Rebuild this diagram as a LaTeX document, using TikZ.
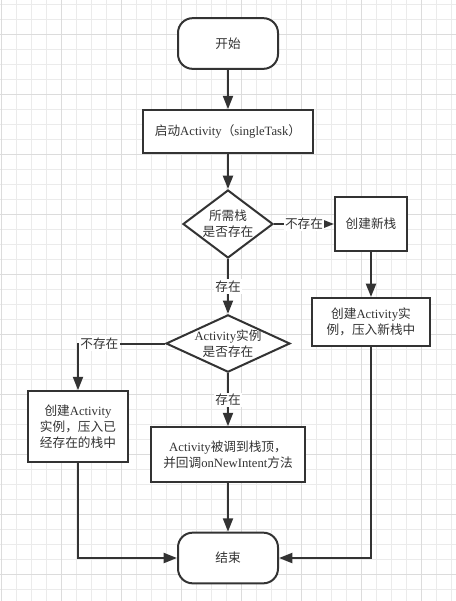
\documentclass[tikz,border=0pt]{standalone}
\usepackage{fontspec}
\setmainfont{Liberation Serif}
\newfontfamily\cjk{Noto Sans CJK SC}
\usetikzlibrary{shapes.geometric}
\usetikzlibrary{arrows.meta}
\newcommand\zh[1]{{\cjk #1}}
\definecolor{ink}{HTML}{333333}
\definecolor{gridminor}{HTML}{EBEBEB}
\definecolor{gridmajor}{HTML}{DCDCDC}

\begin{document}
\begin{tikzpicture}[x=0.75pt,y=-0.75pt,
  every node/.style={font=\fontsize{9.5pt}{12pt}\selectfont,text=ink,align=center},
  line/.style={draw=ink,line width=1.5pt},
  flow/.style={line,-{Triangle[length=10pt,width=7.5pt]}},
  terminal/.style={line,fill=white,rounded corners=11pt,minimum width=75pt,minimum height=38pt},
  process/.style={line,fill=white,inner sep=0pt},
  decision/.style={line,fill=white,shape=diamond,inner sep=0pt},
  tag/.style={fill=white,inner sep=1pt}]

% background grid
\useasboundingbox (0,0) rectangle (456,601);
\fill[white] (0,0) rectangle (456,601);
\foreach \x in {1,16,...,456} \draw[gridminor,line width=0.75pt] (\x,0) -- (\x,601);
\foreach \y in {4,19,...,601} \draw[gridminor,line width=0.75pt] (0,\y) -- (456,\y);
\foreach \x in {1,61,...,456} \draw[gridmajor,line width=0.75pt] (\x,0) -- (\x,601);
\foreach \y in {34,94,...,601} \draw[gridmajor,line width=0.75pt] (0,\y) -- (456,\y);

% nodes
\node[terminal] (start) at (228,43.5) {\zh{开始}};
\node[process,minimum width=128pt,minimum height=32pt] (launch) at (228,131.5) {\zh{启动}Activity\zh{（}singleTask\zh{）}};
\node[decision,aspect=1.32,minimum width=67.5pt,minimum height=51pt] (stackq) at (228,224) {\zh{所需栈}\\\zh{是否存在}};
\node[process,minimum width=54pt,minimum height=40.5pt] (newstack) at (371,224) {\zh{创建新栈}};
\node[process,minimum width=88pt,minimum height=36pt] (pushnew) at (371,322) {\zh{创建}Activity\zh{实}\\\zh{例，压入新栈中}};
\node[decision,aspect=2.18,inner xsep=-2pt,minimum width=93pt,minimum height=43pt] (instq) at (228,343.5) {Activity\zh{实例}\\\zh{是否存在}};
\node[process,minimum width=75pt,minimum height=53pt] (pushold) at (78,426.5) {\zh{创建}Activity\\\zh{实例，压入已}\\\zh{经存在的栈中}};
\node[process,minimum width=115.5pt,minimum height=41pt] (ontop) at (228,454.5) {Activity\zh{被调到栈顶，}\\\zh{并回调}onNewIntent\zh{方法}};
\node[terminal] (finish) at (228,558) {\zh{结束}};

% connectors
\draw[flow] (start) -- (launch);
\draw[flow] (launch) -- (stackq);
\draw[flow] (stackq) -- node[tag] {\zh{不存在}} (newstack);
\draw[flow] (newstack) -- (pushnew);
\draw[flow] (stackq) -- node[tag] {\zh{存在}} (instq);
\draw[flow] (instq) -| node[tag,pos=0.5,anchor=west] {\zh{不存在}} (pushold);
\draw[flow] (instq) -- node[tag] {\zh{存在}} (ontop);
\draw[flow] (ontop) -- (finish);
\draw[flow] (pushold) |- (finish);
\draw[flow] (pushnew) |- (finish);
\end{tikzpicture}
\end{document}
